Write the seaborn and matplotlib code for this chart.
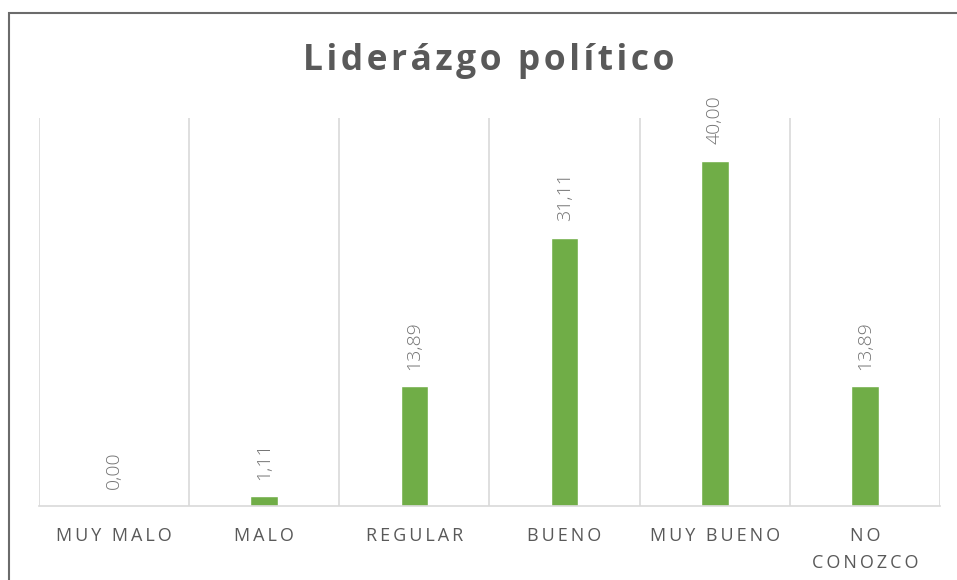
import matplotlib
matplotlib.use('Agg')
import matplotlib.pyplot as plt
import matplotlib.patches as patches
import seaborn as sns
import pandas as pd
import numpy as np

categorias = ['MUY MALO', 'MALO', 'REGULAR', 'BUENO', 'MUY BUENO', 'NO\nCONOZCO']
valores = [0.00, 1.11, 13.89, 31.11, 40.00, 13.89]
titulo = 'Liderázgo político'

sns.set_style('white')
plt.rcParams['font.family'] = ['Open Sans', 'DejaVu Sans']


def espaciar(txt, sep='\u2009'):
    # imitate the letter spacing of the original
    return '\n'.join(sep.join(list(linea)) for linea in txt.split('\n'))


df = pd.DataFrame({'cat': categorias, 'val': valores})

fig = plt.figure(figsize=(9.57, 5.8), dpi=100)
ax = fig.add_axes([39 / 957, 1 - 506 / 580, 901 / 957, 388 / 580])

sns.barplot(data=df, x='cat', y='val', color='#70AD47', width=0.185,
            saturation=1, ax=ax)

ax.set_ylim(0, 45)
ax.set_xlim(-0.5, len(categorias) - 0.5)

# vertical separators between categories
ax.set_xticks(np.arange(-0.5, len(categorias)), minor=True)
ax.grid(True, which='minor', axis='x', color='#d9d9d9', lw=1.2)
ax.grid(False, which='major')
ax.tick_params(which='both', length=0)
ax.set_yticks([])
for s in ['top', 'right', 'left']:
    ax.spines[s].set_visible(False)
ax.spines['bottom'].set_color('#d9d9d9')
ax.spines['bottom'].set_linewidth(1.2)

ax.set_xticks(range(len(categorias)))
ax.set_xticklabels([espaciar(c) for c in categorias], color='#595959',
                   fontsize=13, linespacing=1.65)
ax.tick_params(axis='x', pad=15)
ax.set_xlabel('')
ax.set_ylabel('')

for i, v in enumerate(valores):
    ax.annotate(f'{v:.2f}'.replace('.', ','), (i, v), xytext=(0, 12),
                textcoords='offset points', rotation=90, ha='center',
                va='bottom', color='#737373', fontsize=14, fontweight='light')

fig.text(489 / 957, 1 - 61 / 580, espaciar(titulo, '\u200a'), ha='center',
         va='center', fontsize=25.5, fontweight='bold', color='#595959')

# outer chart border (cut at right and bottom like the original)
fig.patches.append(patches.Rectangle((9 / 957, -0.1), 1.2, 1 - 13 / 580 + 0.1,
                                     transform=fig.transFigure, fill=False,
                                     edgecolor='#6b6b6b', lw=1.5))

fig.savefig('out.png', dpi=100)
